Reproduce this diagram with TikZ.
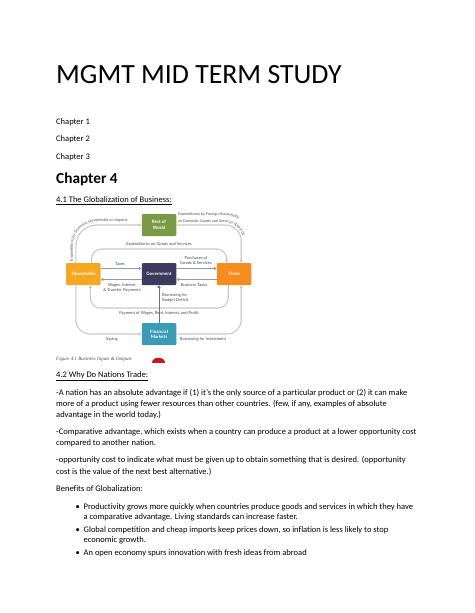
\documentclass[tikz,border=0pt]{standalone}
\usepackage{fontspec}
\setmainfont{Carlito}[Ligatures=NoCommon]
\newfontfamily\dfont{Lato}[Ligatures=NoCommon]
\newfontfamily\capfont{Liberation Serif}
\usetikzlibrary{arrows.meta,decorations.text}
\definecolor{cRow}{HTML}{7A9A45}
\definecolor{cHH}{HTML}{F7A823}
\definecolor{cGov}{HTML}{3E3A5F}
\definecolor{cFirm}{HTML}{F68B1F}
\definecolor{cFin}{HTML}{3B9AB4}
\definecolor{cLoop}{HTML}{C9C9C9}
\definecolor{cArr}{HTML}{9297B0}
\definecolor{cDark}{HTML}{6E6E8E}
\definecolor{cLbl}{HTML}{4A4A4A}
\definecolor{cIcon}{HTML}{C8161D}
\newcommand\lblf{\dfont\fontsize{4.1}{4.9}\selectfont}
\newcommand\curvf{\dfont\fontsize{3.8}{4.4}\selectfont}
\begin{document}
\begin{tikzpicture}[x=1pt,y=-1pt,
  box/.style={draw=none, rounded corners=1pt, minimum width=34.5pt, minimum height=22pt, inner sep=0pt, align=center, text=white, font=\dfont\bfseries\fontsize{4.5}{5.3}\selectfont},
  loopline/.style={draw=cLoop, line width=1.1pt},
  tip/.style={-{Triangle[length=2.6pt,width=3pt]}},
  lbl/.style={font=\lblf, text=cLbl, inner sep=0pt, align=center},
  body/.style={anchor=base west, inner sep=0pt, font=\fontsize{8.5}{10}\selectfont},
  pathtext/.style={decorate, decoration={text along path, text align=left, text color=cLbl, text={|\curvf|#1}}}
]
\fill[white] (0,0) rectangle (474,613);
\path[use as bounding box] (0,0) rectangle (474,613);

% ---- text above diagram
\node[body, font=\fontsize{27.8}{30}\selectfont] (title) at (56,83) {MGMT MID TERM STUDY};
\node[body] (ch1) at (56,124.3) {Chapter 1};
\node[body] (ch2) at (56,141.8) {Chapter 2};
\node[body] (ch3) at (56,159.3) {Chapter 3};
\node[body, font=\bfseries\fontsize{15.3}{18}\selectfont] (ch4) at (56,183.2) {Chapter 4};
\node[body] (h41) at (56,202.8) {\underline{4.1 The Globalization of Business:}};

% ---- diagram boxes
\node[box, fill=cRow] (row) at (159,225) {Rest of\\World};
\node[box, fill=cHH] (hh) at (83.4,274) {Households};
\node[box, fill=cGov] (gov) at (159,274) {Government};
\node[box, fill=cFirm] (firm) at (234.2,274) {Firms};
\node[box, fill=cFin] (fin) at (159,334) {Financial\\Markets};
\coordinate (topin) at (159,249);
\coordinate (botin) at (159,308);

% ---- loops
\draw[loopline,tip,rounded corners=21pt] ([xshift=-7.5pt]hh.north) |- (row.west);
\draw[loopline,tip,rounded corners=16pt] (row.east) -| ([xshift=7pt]firm.north);
\draw[loopline,tip,rounded corners=10pt] ([xshift=8pt]hh.north) |- (topin) -| ([xshift=-7.5pt]firm.north);
\draw[loopline,tip,rounded corners=10pt] ([xshift=-6pt]firm.south) |- (botin) -| ([xshift=7pt]hh.south);
\draw[loopline,tip,rounded corners=14pt] ([xshift=-7.5pt]hh.south) |- (fin.west);
\draw[loopline,tip,rounded corners=14pt] (fin.east) -| ([xshift=7pt]firm.south);
\draw[draw=cDark, line width=0.9pt, tip] (fin.north) -- (gov.south);

% ---- horizontal arrows
\draw[draw=cArr, line width=0.9pt, tip] ([yshift=5.5pt]hh.east) -- ([yshift=5.5pt]gov.west);
\draw[draw=cArr, line width=0.9pt, tip] ([yshift=-5.5pt]gov.west) -- ([yshift=-5.5pt]hh.east);
\draw[draw=cArr, line width=0.9pt, tip] ([yshift=5.5pt]gov.east) -- ([yshift=5.5pt]firm.west);
\draw[draw=cArr, line width=0.9pt, tip] ([yshift=-5.5pt]firm.west) -- ([yshift=-5.5pt]gov.east);

% ---- labels
\node[lbl] (lTax) at (120,264.3) {Taxes};
\node[lbl] (lWage) at (122,288.3) {Wages, Interest\\\& Transfer Payments};
\node[lbl] (lPur) at (196,260.8) {Purchases of\\Goods \& Services};
\node[lbl] (lBT) at (194,285.5) {Business Taxes};
\node[lbl] (lEGS) at (159,244.3) {Expenditures on Goods and Services};
\node[lbl, align=left, anchor=west] (lBBD) at (162,298) {Borrowing for\\Budget Deficit};
\node[lbl] (lPay) at (159,313.8) {Payment of Wages, Rent, Interest, and Profit};
\node[lbl] (lSav) at (112,339) {Saving};
\node[lbl] (lBI) at (203,339) {Borrowing for Investment};
\path[rounded corners=24.5pt, pathtext={Expenditures by Domestic Households on Imports}] (72.8,261) |- (141,221.6);
\path[rounded corners=18.5pt, pathtext={on Domestic Goods and Services (Exports)}] (178,222.6) -| (243.5,262);
\path[rounded corners=25.5pt, pathtext={Expenditures by Foreign Households}] (178,215.6) -| (250.5,262);

% ---- caption and icon
\node[anchor=base west, inner sep=0pt, font=\capfont\itshape\fontsize{5}{6}\selectfont, text=black!70] (cap) at (56,360.8) {Figure 4.1 Business Inputs \& Outputs};
\fill[cIcon] (152.4,362.7) .. controls (152.4,355.5) and (165,355.5) .. (165,362.7) -- cycle;

% ---- text below diagram
\node[body] (h42) at (56,377.5) {\underline{4.2 Why Do Nations Trade:}};
\node[body] (p1a) at (56,395) {-A nation has an absolute advantage if (1) it’s the only source of a particular product or (2) it can make};
\node[body] (p1b) at (56,406.2) {more of a product using fewer resources than other countries. (few, if any, examples of absolute};
\node[body] (p1c) at (56,417.4) {advantage in the world today.)};
\node[body] (p2a) at (56,434.6) {-Comparative advantage, which exists when a country can produce a product at a lower opportunity cost};
\node[body] (p2b) at (56,445.8) {compared to another nation.};
\node[body] (p3a) at (56,462.9) {-opportunity cost to indicate what must be given up to obtain something that is desired. (opportunity};
\node[body] (p3b) at (56,474.6) {cost is the value of the next best alternative.)};
\node[body] (p4) at (56,491.2) {Benefits of Globalization:};
\node[body] (b1) at (75.5,509.4) {•};
\node[body] (b1a) at (83.5,509.4) {Productivity grows more quickly when countries produce goods and services in which they have};
\node[body] (b1b) at (83.5,519.6) {a comparative advantage. Living standards can increase faster.};
\node[body] (b2) at (75.5,532.6) {•};
\node[body] (b2a) at (83.5,532.6) {Global competition and cheap imports keep prices down, so inflation is less likely to stop};
\node[body] (b2b) at (83.5,542.8) {economic growth.};
\node[body] (b3) at (75.5,555.4) {•};
\node[body] (b3a) at (83.5,555.4) {An open economy spurs innovation with fresh ideas from abroad};
\end{tikzpicture}
\end{document}
